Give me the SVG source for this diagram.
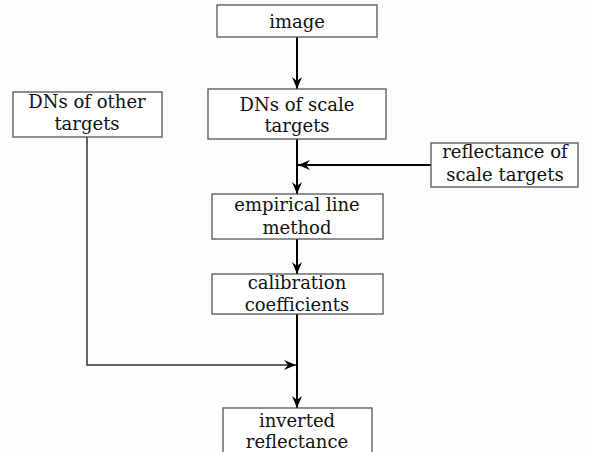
<svg xmlns="http://www.w3.org/2000/svg" width="589" height="452" viewBox="0 0 589 452">
<style>
.box{fill:#fff;stroke:#555;stroke-width:1.3}
.t{font-family:"DejaVu Serif","Liberation Serif",serif;font-size:18px;fill:#111;text-anchor:middle}
.c{fill:none;stroke:#000;stroke-width:2}
.c2{fill:none;stroke:#333;stroke-width:1.5}
</style>
<defs>
<marker id="ah" markerUnits="userSpaceOnUse" markerWidth="14" markerHeight="10" refX="12" refY="5" orient="auto">
<path d="M0,0 L12,5 L0,10 L4,5 z" fill="#000"/>
</marker>
</defs>
<rect width="589" height="452" fill="#fdfdfd"/>
<g id="connectors">
<line class="c" x1="297" y1="37" x2="297" y2="89" marker-end="url(#ah)"/>
<line class="c" x1="297" y1="139" x2="297" y2="194" marker-end="url(#ah)"/>
<line class="c" x1="431" y1="165" x2="298" y2="165" marker-end="url(#ah)"/>
<line class="c" x1="297" y1="239" x2="297" y2="274" marker-end="url(#ah)"/>
<line class="c" x1="297" y1="314" x2="297" y2="408" marker-end="url(#ah)"/>
<polyline class="c2" points="87,137 87,365 296,365" marker-end="url(#ah)"/>
</g>
<g id="image">
<rect class="box" x="217" y="5" width="160" height="32"/>
<text class="t" x="297" y="28">image</text>
</g>
<g id="dns-scale">
<rect class="box" x="208" y="89" width="178" height="50"/>
<text class="t" x="297" y="111">DNs of scale</text>
<text class="t" x="297" y="132">targets</text>
</g>
<g id="dns-other">
<rect class="box" x="13" y="92" width="149" height="45"/>
<text class="t" x="87" y="108">DNs of other</text>
<text class="t" x="87" y="130">targets</text>
</g>
<g id="reflectance-scale">
<rect class="box" x="431" y="143" width="147" height="44"/>
<text class="t" x="505" y="158">reflectance of</text>
<text class="t" x="505" y="181">scale targets</text>
</g>
<g id="empirical">
<rect class="box" x="212" y="194" width="171" height="45"/>
<text class="t" x="297" y="211">empirical line</text>
<text class="t" x="297" y="234">method</text>
</g>
<g id="calibration">
<rect class="box" x="212" y="274" width="171" height="40"/>
<text class="t" x="297" y="289">calibration</text>
<text class="t" x="297" y="311">coefficients</text>
</g>
<g id="inverted">
<rect class="box" x="223" y="408" width="149" height="60"/>
<text class="t" x="297" y="427">inverted</text>
<text class="t" x="297" y="448">reflectance</text>
</g>
</svg>
